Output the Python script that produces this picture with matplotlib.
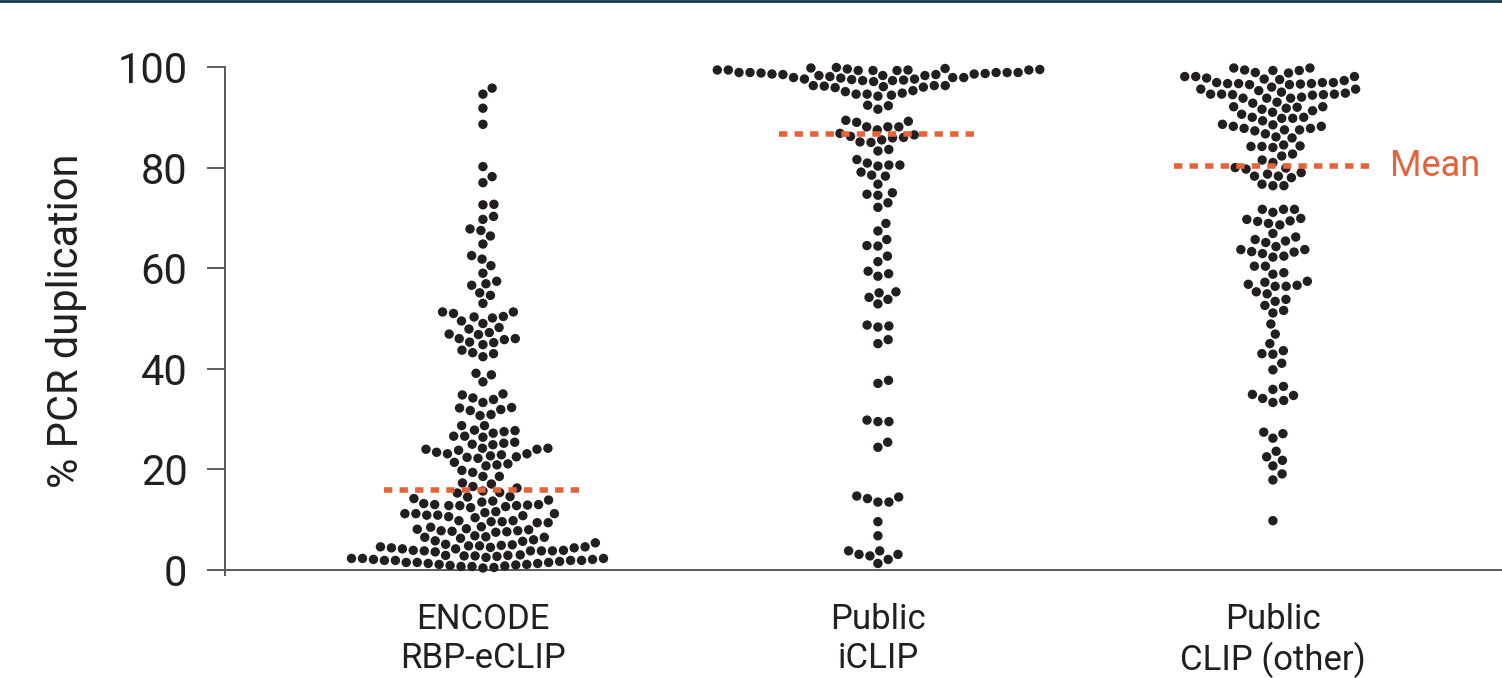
import numpy as np
import matplotlib
matplotlib.use('Agg')
import matplotlib.pyplot as plt
from matplotlib.lines import Line2D

plt.rcParams['font.family'] = ['Roboto', 'DejaVu Sans']

categories = ['ENCODE\nRBP-eCLIP', 'Public\niCLIP', 'Public\nCLIP (other)']

encode_vals = [
    95.8, 94.6, 91.8, 88.6, 80.2, 78.2, 77.0, 72.6, 72.7, 69.7, 70.3, 67.8, 67.5, 66.4, 64.8, 62.5,
    61.8, 60.5, 59.0, 56.9, 57.4, 56.6, 55.1, 54.6, 53.0, 51.3,
    50.1, 51.0, 50.4, 51.3, 50.3, 48.2, 49.0, 49.5, 46.9, 47.2, 47.9, 46.8, 46.0, 45.8, 45.3, 46.0,
    45.2, 43.7, 44.8, 43.2, 43.0, 42.4,
    38.8, 39.1, 37.4, 33.9, 34.2, 35.0, 34.8, 32.3, 31.9, 32.2, 33.3, 30.9, 30.7, 31.7,
    28.7, 27.8, 26.6, 25.2, 28.7, 27.2, 27.5, 26.4, 27.7, 26.6, 24.9, 25.0, 25.4,
    23.8, 22.2, 24.2, 22.7, 24.0, 23.4, 23.1, 22.9, 24.2, 22.4, 22.5, 23.1, 24.0,
    21.1, 20.7, 19.4, 21.4, 19.8, 18.6, 20.9, 18.6, 17.1, 16.6, 16.3, 17.3,
    15.4, 14.6, 15.3, 15.7, 13.7, 12.4, 13.0, 13.9, 12.9, 14.2, 12.8, 13.0, 13.5, 12.8, 14.5, 12.8,
    13.2, 11.6, 12.6,
    10.4, 10.9, 10.8, 11.2, 11.4, 11.2, 9.8, 8.5, 10.6, 9.8, 11.2, 9.6, 10.9, 9.4, 9.4, 9.6, 8.6,
    7.6, 8.1, 7.8, 7.5, 8.0, 8.2, 7.7, 7.8,
    5.8, 5.7, 6.6, 6.5, 6.0, 4.8, 5.4, 6.5, 6.3, 5.0, 6.8,
    4.6, 3.9, 3.6, 4.4, 4.6, 3.8, 4.2, 4.4, 3.9, 3.0, 3.8, 3.8, 3.8, 4.8, 4.9, 4.5, 4.2, 5.1,
    1.1, 1.5, 1.1, 2.3, 1.0, 1.5, 2.9, 0.9, 2.9, 1.3, 2.7, 1.9, 0.4, 2.1, 2.8, 1.5, 1.9, 2.3,
    0.5, 2.1, 1.3, 2.8, 1.7, 2.5, 0.7, 0.8, 2.3, 1.9, 0.7, 1.9,
]

iclip_vals = [
    99.8, 98.5, 98.9, 99.6, 97.9, 99.3, 99.3, 97.5, 96.1, 98.9, 99.5, 97.1, 96.2, 99.7, 97.6, 96.3,
    94.6, 99.3, 98.9, 97.6, 96.0, 94.2, 91.6, 89.2, 87.5, 85.0, 83.3, 80.9, 78.3,
    98.8, 98.1, 99.4,
    95.3, 94.6, 92.3, 89.0, 88.1, 85.5, 81.6, 78.5, 76.7, 75.0,
    98.3, 97.9, 98.3, 98.5, 97.4, 96.3, 94.4, 92.4, 89.4, 88.1, 85.1, 83.6, 80.5, 79.1, 80.5, 74.5,
    72.1, 74.7, 73.0, 80.3,
    99.9, 98.9, 97.9, 99.4, 98.7, 98.3, 97.3, 96.3, 99.4, 98.6, 97.8, 99.4, 98.9, 98.6,
    95.9, 94.8, 97.3, 95.1, 88.1, 86.5, 86.0, 86.8, 86.2, 85.9,
    64.4, 64.5, 68.9, 67.4, 65.7, 62.4, 61.3, 59.4, 58.4, 58.9, 55.3, 54.2, 55.1, 53.8, 52.9,
    48.3, 48.5, 48.7, 45.0, 45.8, 37.7, 37.1, 29.5, 29.8, 29.5, 25.4, 24.4,
    13.5, 14.5, 13.5, 14.7, 14.2, 9.6, 6.8, 3.8, 3.8, 3.1, 3.1, 2.8, 1.3, 2.1,
]

clip_other_vals = [
    96.5, 96.9, 98.8, 94.5, 96.5, 94.6, 99.8, 96.7, 96.0, 99.3, 96.9, 93.8, 92.8, 92.1, 91.3, 90.0,
    88.6, 88.2, 86.7, 87.8, 84.3,
    96.6, 95.6, 94.4, 94.8, 98.9, 91.8, 90.0, 87.3, 86.1, 84.2, 82.7,
    96.7, 98.1, 95.0, 93.0, 94.0, 96.7, 94.5, 89.8, 88.5, 87.5, 85.9, 84.2, 82.3,
    97.6, 99.3, 95.6, 93.8, 92.0, 91.0, 88.2, 87.8, 84.0, 81.5, 81.0,
    99.8, 97.8, 95.3, 94.6, 92.1, 90.6, 89.3, 87.5, 84.5, 99.4, 98.1, 94.6, 91.6, 89.8, 96.9, 98.1,
    97.3, 93.8, 97.5,
    79.7, 78.3, 79.0, 79.9, 78.0, 76.4, 80.0, 78.3, 76.7, 78.7, 76.4,
    71.7, 71.1, 71.7, 71.7, 69.9, 68.9, 69.4, 69.7, 69.3, 68.6, 66.9, 65.7, 65.4, 65.1, 66.2, 64.3,
    63.7, 62.9, 63.7, 62.2, 63.3, 62.4, 63.2,
    60.4, 58.8, 60.4, 59.1, 56.6, 57.4, 56.4, 54.9, 53.8, 56.4, 55.3, 53.4, 52.6, 56.8, 57.2, 51.6,
    51.1,
    48.9, 46.9, 45.0, 43.0, 42.9, 43.6, 41.1, 39.8, 36.5, 35.9, 34.7, 34.1, 34.9, 33.7, 33.3, 27.4,
    26.2, 27.1, 23.6, 22.5, 21.8, 20.7, 19.1, 17.9, 9.8,
]

group_vals = [encode_vals, iclip_vals, clip_other_vals]
mean_vals = [15.9, 86.6, 80.4]

dot_color = '#231f20'
mean_color = '#e5633a'
axis_color = '#5a5a5a'
text_color = '#231f20'


def swarm_offsets(py, d):
    # simple beeswarm in pixel space: put each point as close to the centre as possible
    order = np.argsort(py)
    xs = np.zeros(len(py))
    placed = []
    for i in order:
        y = py[i]
        near = [(qx, qy) for qx, qy in placed if abs(qy - y) < d]
        cands = [0.0]
        for qx, qy in near:
            dx = np.sqrt(d * d - (qy - y) ** 2)
            cands += [qx + dx, qx - dx]
        cands.sort(key=abs)
        for c in cands:
            if all((c - qx) ** 2 + (y - qy) ** 2 >= d * d - 1e-6 for qx, qy in near):
                xs[i] = c
                break
        placed.append((xs[i], y))
    return xs


fig = plt.figure(figsize=(15.02, 6.78), dpi=100)
ax = fig.add_axes([0.1498, 0.1519, 0.8502, 0.7493])
ax.set_xlim(-0.653, 2.580)
ax.set_ylim(-1, 100)

# pixel scale of the axes, used to lay out the swarm
p0 = ax.transData.transform((0, 0))
p1 = ax.transData.transform((1, 1))
px_per_x = p1[0] - p0[0]
px_per_y = p1[1] - p0[1]

for i, vals in enumerate(group_vals):
    vals = np.array(vals)
    offs = swarm_offsets(vals * px_per_y, 11.0) / px_per_x
    ax.scatter(i + offs, vals, s=46, color=dot_color, edgecolors='none', zorder=3, clip_on=False)
    ax.plot([i - 0.25, i + 0.25], [mean_vals[i], mean_vals[i]], color=mean_color, lw=4,
            linestyle=(0, (1.5, 1.3)), dash_capstyle='butt', zorder=4)

ax.text(2.296, mean_vals[2], 'Mean', color=mean_color, fontsize=26, ha='left', va='center')

for side in ['top', 'right']:
    ax.spines[side].set_visible(False)
for side in ['left', 'bottom']:
    ax.spines[side].set_color(axis_color)
    ax.spines[side].set_linewidth(1.4)
ax.spines['bottom'].set_position(('data', 0))

ax.set_yticks([0, 20, 40, 60, 80, 100])
ax.set_xticks(range(len(categories)))
ax.set_xticklabels(categories)
ax.tick_params(axis='y', length=13, width=1.4, color=axis_color, labelsize=30,
               labelcolor=text_color, pad=14)
ax.tick_params(axis='x', length=0, labelsize=25, labelcolor=text_color, pad=24)
ax.set_ylabel('% PCR duplication', fontsize=30, color=text_color, labelpad=22)

fig.add_artist(Line2D([0, 1], [0.998, 0.998], transform=fig.transFigure, color='#0e3c47', lw=2))

fig.savefig('out.png', dpi=100, facecolor='white')
